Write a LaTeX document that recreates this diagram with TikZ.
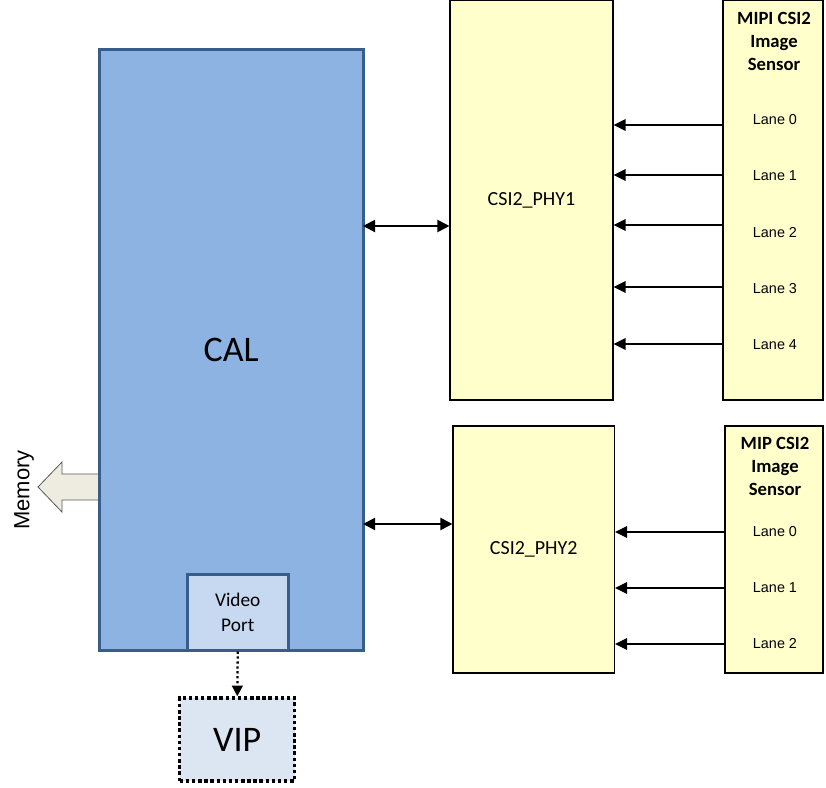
\documentclass[tikz,border=0pt]{standalone}
\usepackage{fontspec}
\setmainfont{Carlito}
\newfontfamily\lanefont{Liberation Sans}
\newfontfamily\memfont{Liberation Sans}
\usetikzlibrary{arrows.meta}

\definecolor{calblue}{HTML}{8DB3E2}
\definecolor{calborder}{HTML}{385D8A}
\definecolor{portblue}{HTML}{C6D9F1}
\definecolor{vipblue}{HTML}{DCE6F2}
\definecolor{phyyellow}{HTML}{FFFFCC}
\definecolor{memfill}{HTML}{EEECE1}
\definecolor{memborder}{HTML}{595959}

\newcommand\pxu{0.75pt}

\tikzset{
  calblock/.style={draw=calborder, line width=2.25pt, fill=calblue,
    font=\fontsize{27}{32}\selectfont},
  portblock/.style={draw=calborder, line width=2.25pt, fill=portblue,
    font=\fontsize{14.5}{18.75}\selectfont},
  vipblock/.style={draw=black, line width=2.6pt, fill=vipblue,
    dash pattern=on 2.6pt off 2pt, font=\fontsize{27}{32}\selectfont},
  phyblock/.style={draw=black, line width=0.8pt, fill=phyyellow,
    font=\fontsize{15}{18}\selectfont},
  sensortitle/.style={font=\bfseries\fontsize{14}{17.25}\selectfont},
  lanelabel/.style={font=\lanefont\fontsize{10.8}{12}\selectfont},
  linkarrow/.style={line width=1.5pt, {Triangle[length=9pt,width=9pt]}-{Triangle[length=9pt,width=9pt]}},
  lanearrow/.style={line width=1.5pt, -{Triangle[length=9pt,width=8.5pt]}},
  portarrow/.style={line width=1.7pt, dotted, -{Triangle[length=8pt,width=8pt]}},
  memarrow/.style={draw=memborder, line width=0.6pt, fill=memfill, line join=miter}
}

\begin{document}
\begin{tikzpicture}[x=0.75pt, y=-0.75pt, every node/.style={inner sep=0pt, align=center}]
\useasboundingbox (0,0) rectangle (826,788);

% Memory output arrow (behind CAL)
\draw[memarrow] (102,474) -- (62,474) -- (62,462) -- (38,487) -- (62,512) -- (62,500) -- (102,500);
\node[rotate=90, font=\memfont\fontsize{16.5}{18}\selectfont] (memlabel) at (24,490) {Memory};

% CAL block and video port
\node[calblock, minimum width=263.5*\pxu, minimum height=600.5*\pxu] (cal) at (231.25,349.75) {CAL};
\node[portblock, minimum width=100.5*\pxu, minimum height=75.5*\pxu] (vport) at (237.75,612.25) {Video\\Port};
\node[vipblock, minimum width=115*\pxu, minimum height=83*\pxu] (vip) at (237.25,739.5) {VIP};

% PHY blocks
\node[phyblock, minimum width=163*\pxu, minimum height=399.5*\pxu] (phy1) at (531.5,200.25) {CSI2\_PHY1};
\node[phyblock, minimum width=161.5*\pxu, minimum height=247*\pxu] (phy2) at (533.75,549.5) {CSI2\_PHY2};

% Image sensors
\node[phyblock, minimum width=100*\pxu, minimum height=399.5*\pxu] (sensor1) at (773,200.25) {};
\node[phyblock, minimum width=98*\pxu, minimum height=247*\pxu] (sensor2) at (774,549.5) {};
\node[sensortitle] (s1title) at (774,41) {MIPI CSI2\\Image\\Sensor};
\node[sensortitle] (s2title) at (775,466) {MIP CSI2\\Image\\Sensor};

% Lanes of sensor 1
\foreach \n/\ty/\ay in {0/120/125, 1/176/175, 2/233/225, 3/289/287, 4/345/344} {
  \node[lanelabel] (s1lane\n) at (775,\ty) {Lane \n};
  \coordinate (s1in\n) at (723,\ay);
  \draw[lanearrow] (s1in\n) -- (phy1.east |- s1in\n);
}

% Lanes of sensor 2
\foreach \n/\ty/\ay in {0/532/532, 1/588/588, 2/644/644} {
  \node[lanelabel] (s2lane\n) at (775,\ty) {Lane \n};
  \coordinate (s2in\n) at (725,\ay);
  \draw[lanearrow] (s2in\n) -- (phy2.east |- s2in\n);
}

% CAL <-> PHY links
\coordinate (link1) at (363,226);
\coordinate (link2) at (363,524);
\draw[linkarrow] (link1) -- (phy1.west |- link1);
\draw[linkarrow] (link2) -- (phy2.west |- link2);

% Video port to VIP
\draw[portarrow] (vport.south) -- (vip.north);

\end{tikzpicture}
\end{document}
